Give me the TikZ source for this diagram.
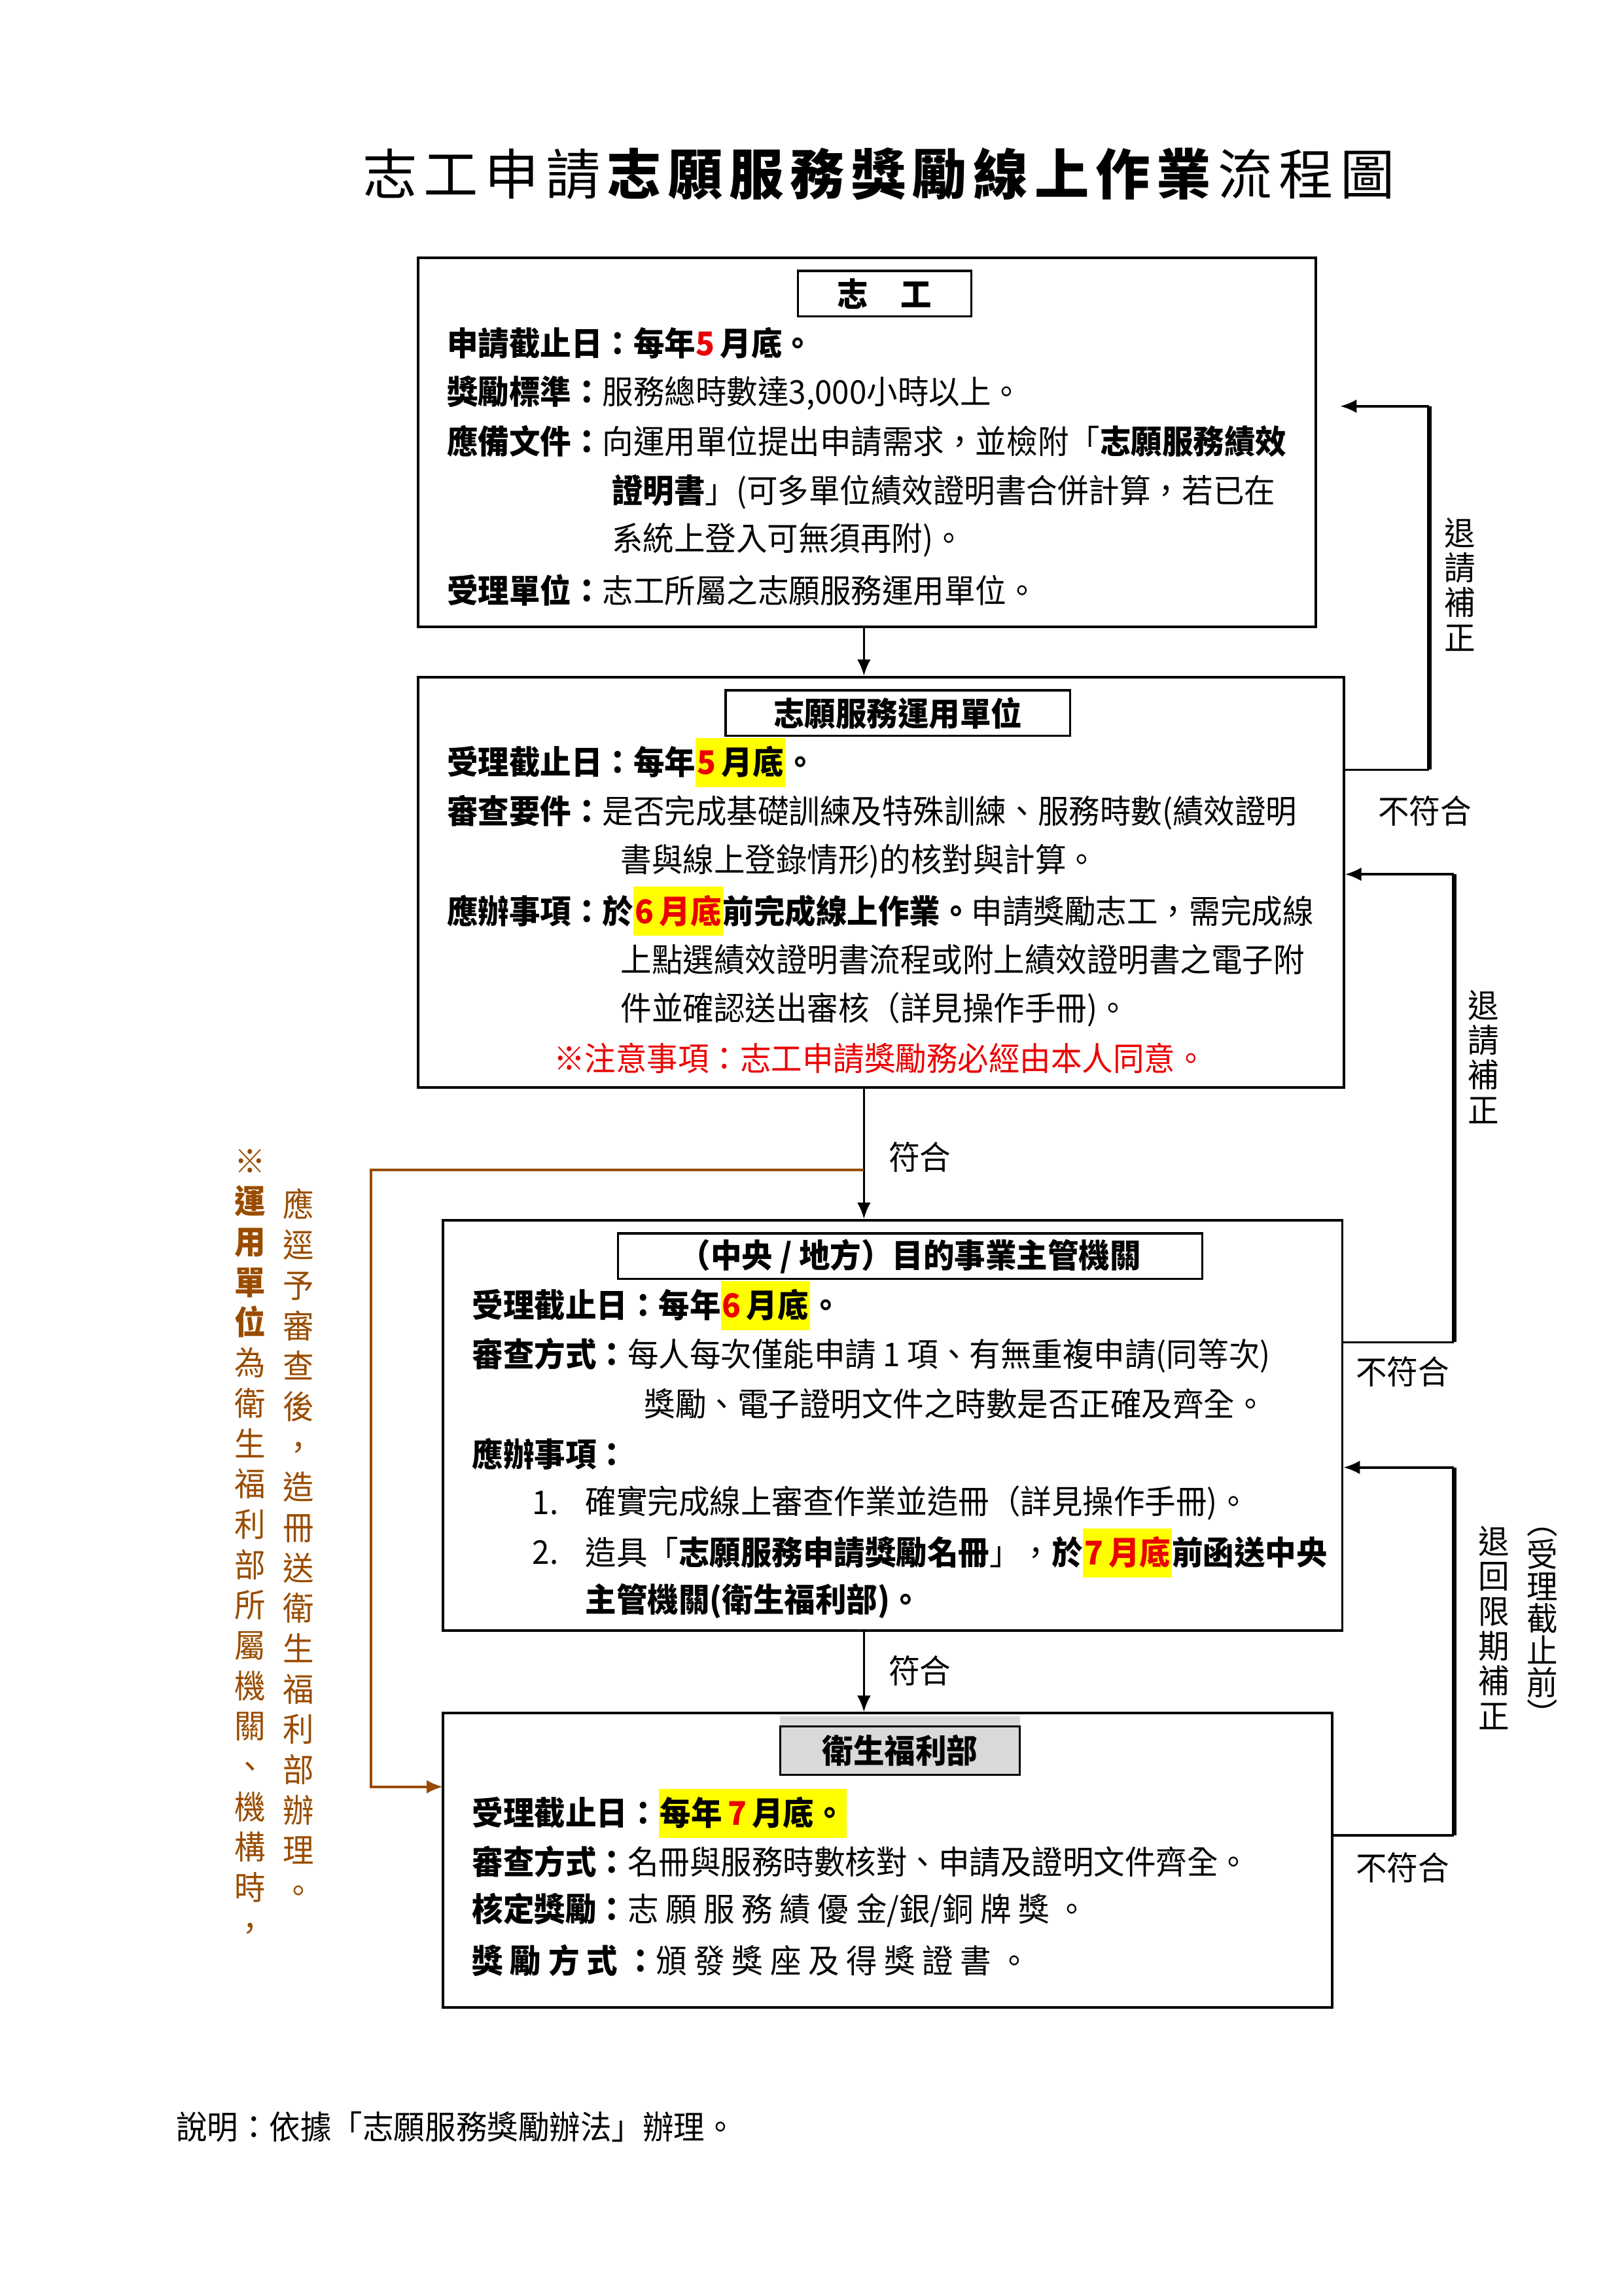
\documentclass[tikz,border=0pt]{standalone}
\usepackage{fontspec}
\setmainfont{Noto Sans CJK TC}[FakeStretch=0.95]
\newfontfamily\titlefont[LetterSpace=12]{Noto Sans CJK TC}
\usetikzlibrary{arrows.meta, fit}
\definecolor{hlyellow}{RGB}{255,255,0}
\definecolor{notered}{RGB}{235,0,0}
\definecolor{notebrown}{RGB}{153,76,0}
\definecolor{headgray}{RGB}{217,217,217}
\newcommand{\hly}[1]{{\setlength{\fboxsep}{0.5pt}\colorbox{hlyellow}{\rule[-4pt]{0pt}{17pt}#1}}}
\newcommand{\rd}[1]{\textcolor{notered}{#1}}

\begin{document}
\begin{tikzpicture}[x=0.5397pt, y=-0.5397pt,
  every node/.style={font=\fontsize{12}{14}\selectfont, inner sep=0.75pt},
  flowbox/.style={draw, line width=0.9pt, inner sep=0pt},
  headbox/.style={draw, line width=0.8pt, inner sep=0pt},
  txt/.style={anchor=west},
  flow/.style={line width=0.8pt, -{Latex[length=6pt,width=5pt]}},
  back/.style={line width=0.9pt},
  backbar/.style={line width=1.7pt},
  noteline/.style={notebrown, line width=1pt, -{Latex[length=6pt,width=5pt]}},
  vtext/.style={align=center, font=\fontsize{12}{12.8}\selectfont},
  vcol/.style={align=center, text=notebrown, anchor=north, font=\fontsize{12}{14.8}\selectfont}]
\useasboundingbox (0,0) rectangle (1103,1560);

\node (title) at (597,118) {\titlefont\fontsize{20}{24}\selectfont 志工申請\textbf{志願服務獎勵線上作業}流程圖};

%Boxes
\node[flowbox, fit={(284,175) (894,426)}] (vol) {};
\node[flowbox, fit={(284,460) (913,739)}] (org) {};
\node[flowbox, fit={(301,829) (912,1108)}] (gov) {};
\node[flowbox, fit={(301,1164) (905,1364)}] (mohw) {};

%Headers
\node[headbox, fit={(542,184) (660,215)}] (volh) {};
\node at (volh.center) (volht) {\textbf{志\quad 工}};
\node[headbox, fit={(493,469) (727,500)}] (orgh) {};
\node at (orgh.center) (orght) {\textbf{志願服務運用單位}};
\node[headbox, fit={(420,838) (817,869)}] (govh) {};
\node at (govh.center) (govht) {\textbf{（中央 / 地方）目的事業主管機關}};
\fill[headgray] (530,1166) rectangle (693,1206);
\node[headbox, fit={(530,1173) (693,1206)}] (mohwh) {};
\node at (mohwh.center) (mohwht) {\textbf{衛生福利部}};

%Text
\node[txt] (v1) at (302,233) {\textbf{申請截止日：每年\rd{5}\,月底。}};
\node[txt] (v2) at (302,267) {\textbf{獎勵標準：}服務總時數達3,000小時以上。};
\node[txt] (v3) at (302,300) {\textbf{應備文件：}向運用單位提出申請需求，並檢附「\textbf{志願服務績效}};
\node[txt] (v4) at (414,334) {\textbf{證明書}」(可多單位績效證明書合併計算，若已在};
\node[txt] (v5) at (414,367) {系統上登入可無須再附)。};
\node[txt] (v6) at (302,401) {\textbf{受理單位：}志工所屬之志願服務運用單位。};

\node[txt] (o1) at (302,518) {\textbf{受理截止日：每年\hly{\rd{5}\,月底}。}};
\node[txt] (o2) at (302,552) {\textbf{審查要件：}是否完成基礎訓練及特殊訓練、服務時數(績效證明};
\node[txt] (o3) at (420,585) {書與線上登錄情形)的核對與計算。};
\node[txt] (o4) at (302,619) {\textbf{應辦事項：於\hly{\rd{6\,月底}}前完成線上作業。}申請獎勵志工，需完成線};
\node[txt] (o5) at (420,652) {上點選績效證明書流程或附上績效證明書之電子附};
\node[txt] (o6) at (420,686) {件並確認送出審核（詳見操作手冊)。};
\node (o7) at (598,719) {\rd{※注意事項：志工申請獎勵務必經由本人同意。}};

\node[txt] (g1) at (319,887) {\textbf{受理截止日：每年\hly{\rd{6}\,月底}。}};
\node[txt] (g2) at (319,921) {\textbf{審查方式：}每人每次僅能申請 1 項、有無重複申請(同等次)};
\node[txt] (g3) at (436,954) {獎勵、電子證明文件之時數是否正確及齊全。};
\node[txt] (g4) at (319,988) {\textbf{應辦事項：}};
\node[txt] (g5n) at (360,1021) {1.};
\node[txt] (g5) at (396,1021) {確實完成線上審查作業並造冊（詳見操作手冊)。};
\node[txt] (g6n) at (360,1055) {2.};
\node[txt] (g6) at (396,1055) {造具「\textbf{志願服務申請獎勵名冊}」，\textbf{於\hly{\rd{7\,月底}}前函送中央}};
\node[txt] (g7) at (396,1088) {\textbf{主管機關(衛生福利部)。}};

\node[txt] (m1) at (319,1232) {\textbf{受理截止日：\hly{每年\,\rd{7}\,月底。}}};
\node[txt] (m2) at (319,1265) {\textbf{審查方式：}名冊與服務時數核對、申請及證明文件齊全。};
\node[txt] (m3) at (319,1298) {\textbf{核定獎勵：}志 願 服 務 績 優 金/銀/銅 牌 獎 。};
\node[txt] (m4) at (319,1332) {\textbf{獎 勵 方 式 ：}頒 發 獎 座 及 得 獎 證 書 。};

\node[txt] (foot) at (118,1445) {說明：依據「志願服務獎勵辦法」辦理。};

%Main flow
\coordinate (spine) at (587,0);
\draw[flow] (spine |- vol.south) -- (spine |- org.north);
\draw[flow] (spine |- org.south) -- (spine |- gov.north);
\draw[flow] (spine |- gov.south) -- (spine |- mohw.north);
\node (ok1) at (625,786) {符合};
\node (ok2) at (625,1135) {符合};

%Brown side path
\coordinate (bturn) at (252,795);
\coordinate (bend) at (301,1214);
\draw[noteline] (spine |- bturn) -- (bturn) |- (bend);
\node[vcol] (note1) at (170,779) {\textbf{※}\\\textbf{運}\\\textbf{用}\\\textbf{單}\\\textbf{位}\\為\\衛\\生\\福\\利\\部\\所\\屬\\機\\關\\、\\機\\構\\時\\，};
\node[vcol] (note2) at (203,806) {應\\逕\\予\\審\\查\\後\\，\\造\\冊\\送\\衛\\生\\福\\利\\部\\辦\\理\\。};

%Return paths
\coordinate (r1) at (971,523);
\coordinate (r1t) at (971,276);
\draw[back] (org.east |- r1) -- (r1);
\draw[back, -{Latex[length=6pt,width=5pt]}, shorten >=8.5pt] (r1t) -- (vol.east |- r1t);
\draw[backbar] (r1) -- (r1t);
\node (no1) at (968,551) {不符合};
\node[vtext] (ret1) at (992,397) {退\\請\\補\\正};

\coordinate (r2) at (988,912);
\coordinate (r2t) at (988,594);
\draw[back] (gov.east |- r2) -- (r2);
\draw[back, -{Latex[length=6pt,width=5pt]}] (r2t) -- (org.east |- r2t);
\draw[backbar] (r2) -- (r2t);
\node (no2) at (953,932) {不符合};
\node[vtext] (ret2) at (1008,718) {退\\請\\補\\正};

\coordinate (r3) at (988,1247);
\coordinate (r3t) at (988,997);
\draw[back] (mohw.east |- r3) -- (r3);
\draw[back, -{Latex[length=6pt,width=5pt]}] (r3t) -- (gov.east |- r3t);
\draw[backbar] (r3) -- (r3t);
\node (no3) at (953,1269) {不符合};
\node[vtext] (ret3) at (1015,1106) {退\\回\\限\\期\\補\\正};
\node[vtext, font=\fontsize{12}{11.8}\selectfont] (ret3b) at (1048,1106) {︵\\受\\理\\截\\止\\前\\︶};
\end{tikzpicture}
\end{document}
